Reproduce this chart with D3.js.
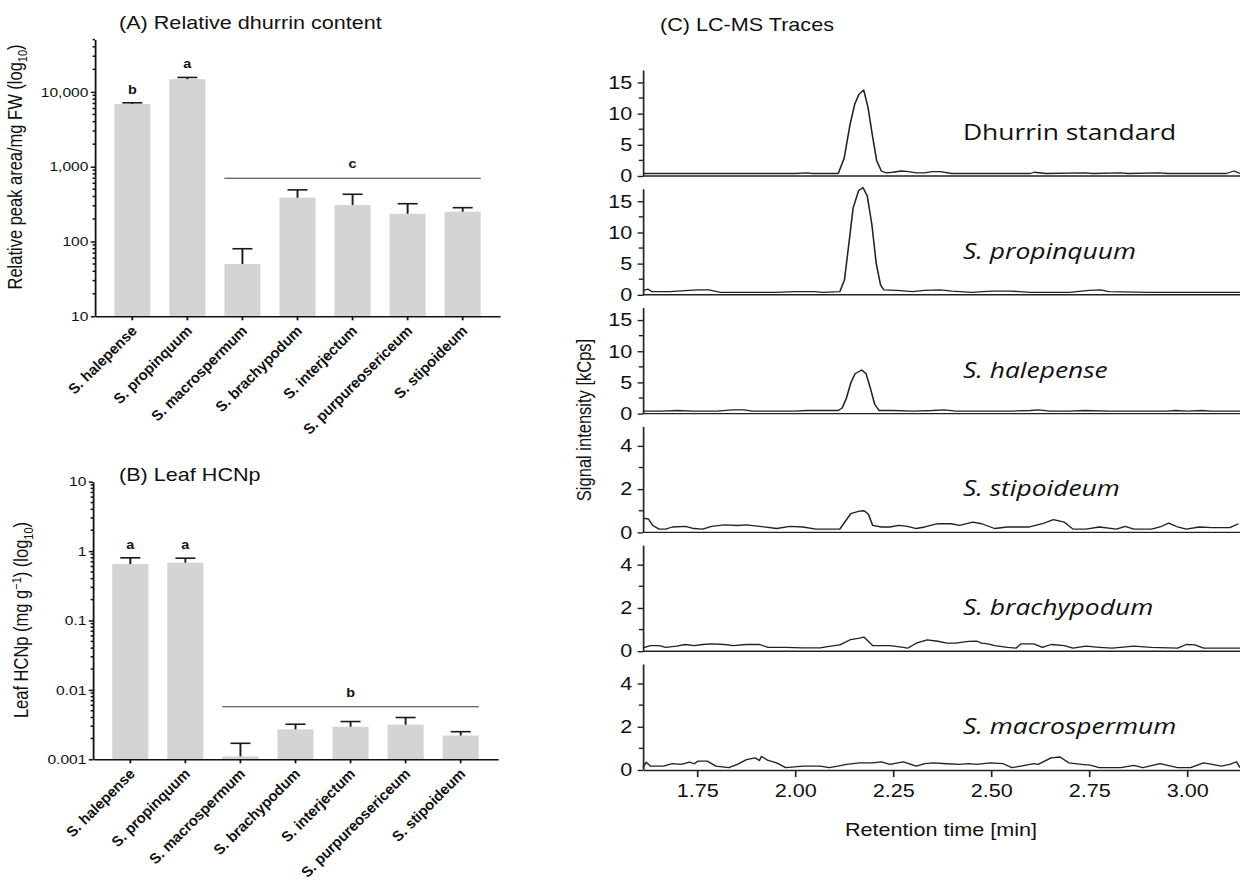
<!DOCTYPE html>
<html>
<head>
<meta charset="utf-8">
<script src="https://cdn.jsdelivr.net/npm/d3@7"></script>
<style>
body { margin: 0; background: #fff; }
svg { display: block; }
text { font-family: "Liberation Sans", Arial, sans-serif; fill: #111; }
</style>
</head>
<body>
<svg id="fig" width="1240" height="881"></svg>
<script>
// ---- data ----
var species = ["S. halepense", "S. propinquum", "S. macrospermum", "S. brachypodum",
               "S. interjectum", "S. purpureosericeum", "S. stipoideum"];

// (A) relative dhurrin content, peak area / mg FW
var dhurrinMean = [6900, 14800, 50, 385, 308, 235, 250];
var dhurrinSem  = [250, 800, 30, 105, 120, 85, 33];
var dhurrinLetters = ["b", "a", "", "", "", "", ""];
var dhurrinGroupValue = 700, dhurrinGroupLetter = "c";
var dhurrinTicks = [10, 100, 1000, 10000];

// (B) leaf HCNp, mg/g
var hcnMean = [0.65, 0.68, 0.0011, 0.0027, 0.00295, 0.00315, 0.0022];
var hcnSem  = [0.15, 0.11, 0.0006, 0.0005, 0.00055, 0.00085, 0.0003];
var hcnLetters = ["a", "a", "", "", "", "", ""];
var hcnGroupValue = 0.0057, hcnGroupLetter = "b";
var hcnTicks = [0.001, 0.01, 0.1, 1, 10];

// (C) LC-MS traces [retention time min, kCps]
var traceStandard = [[1.612,0.4],[1.70,0.4],[1.80,0.4],[1.90,0.4],[2.00,0.4],[2.03,0.5],[2.045,0.4],[2.11,0.4],
  [2.125,2.8],[2.14,8.2],[2.152,11.5],[2.163,13.1],[2.175,13.8],[2.186,11],[2.197,6.6],[2.208,2.5],[2.22,0.8],
  [2.232,0.5],[2.25,0.6],[2.27,0.8],[2.29,0.7],[2.31,0.5],[2.33,0.5],[2.35,0.7],[2.37,0.7],[2.40,0.4],[2.50,0.4],
  [2.60,0.4],[2.61,0.6],[2.64,0.4],[2.74,0.5],[2.76,0.4],[2.83,0.5],[2.85,0.4],[2.93,0.5],[2.95,0.4],[3.10,0.4],
  [3.12,0.8],[3.135,0.4]];
var tracePropinquum = [[1.612,0.7],[1.625,0.9],[1.635,0.5],[1.68,0.5],[1.70,0.6],[1.75,0.8],[1.78,0.8],[1.81,0.4],
  [1.90,0.4],[1.95,0.4],[2.00,0.5],[2.05,0.5],[2.07,0.4],[2.114,0.5],[2.126,2.4],[2.137,8.1],[2.148,13.9],
  [2.162,16.7],[2.173,17.2],[2.184,15.9],[2.196,11.2],[2.207,5.0],[2.218,1.6],[2.226,0.8],[2.26,0.7],[2.30,0.5],
  [2.33,0.7],[2.37,0.8],[2.40,0.6],[2.45,0.4],[2.50,0.6],[2.55,0.6],[2.60,0.4],[2.70,0.4],[2.75,0.7],[2.78,0.8],
  [2.80,0.5],[2.90,0.4],[3.00,0.4],[3.135,0.4]];
var traceHalepense = [[1.612,0.4],[1.66,0.4],[1.70,0.5],[1.74,0.4],[1.80,0.4],[1.84,0.6],[1.87,0.6],[1.89,0.4],
  [1.95,0.4],[2.00,0.4],[2.03,0.5],[2.08,0.5],[2.11,0.5],[2.12,0.9],[2.131,2.5],[2.142,4.9],[2.153,6.4],[2.170,7.0],
  [2.181,6.4],[2.192,4.1],[2.203,1.5],[2.214,0.5],[2.25,0.5],[2.30,0.4],[2.35,0.5],[2.38,0.6],[2.41,0.4],[2.50,0.4],
  [2.55,0.4],[2.60,0.5],[2.62,0.6],[2.65,0.4],[2.70,0.4],[2.74,0.5],[2.80,0.4],[2.90,0.4],[2.95,0.4],[2.97,0.5],
  [3.00,0.4],[3.04,0.5],[3.06,0.4],[3.135,0.4]];
var traceStipoideum = [[1.612,0.66],[1.626,0.62],[1.637,0.32],[1.653,0.15],[1.670,0.15],[1.687,0.25],[1.720,0.28],
  [1.742,0.18],[1.764,0.15],[1.787,0.28],[1.820,0.35],[1.853,0.32],[1.876,0.35],[1.909,0.28],[1.953,0.18],
  [1.987,0.28],[2.020,0.25],[2.053,0.15],[2.114,0.15],[2.142,0.87],[2.164,0.98],[2.176,1.0],[2.187,0.84],
  [2.198,0.32],[2.220,0.25],[2.242,0.25],[2.264,0.32],[2.287,0.28],[2.309,0.18],[2.331,0.25],[2.364,0.40],
  [2.398,0.40],[2.420,0.32],[2.453,0.47],[2.476,0.40],[2.509,0.18],[2.542,0.25],[2.598,0.25],[2.631,0.40],
  [2.659,0.59],[2.687,0.47],[2.709,0.15],[2.742,0.15],[2.776,0.25],[2.820,0.15],[2.842,0.28],[2.864,0.15],
  [2.909,0.15],[2.931,0.25],[2.953,0.43],[2.976,0.25],[2.998,0.15],[3.031,0.25],[3.064,0.22],[3.109,0.22],
  [3.131,0.40]];
var traceBrachypodum = [[1.612,0.15],[1.631,0.26],[1.653,0.26],[1.670,0.18],[1.698,0.23],[1.720,0.31],[1.742,0.26],
  [1.764,0.31],[1.787,0.34],[1.820,0.31],[1.842,0.26],[1.876,0.31],[1.909,0.31],[1.931,0.18],[1.976,0.18],
  [2.020,0.15],[2.064,0.15],[2.087,0.22],[2.114,0.29],[2.142,0.54],[2.164,0.6],[2.176,0.65],[2.198,0.26],
  [2.242,0.26],[2.276,0.18],[2.287,0.14],[2.309,0.37],[2.337,0.52],[2.364,0.46],[2.387,0.37],[2.409,0.37],
  [2.442,0.45],[2.464,0.46],[2.476,0.37],[2.492,0.34],[2.509,0.26],[2.542,0.18],[2.564,0.14],[2.576,0.34],
  [2.609,0.34],[2.631,0.18],[2.653,0.31],[2.687,0.26],[2.709,0.14],[2.742,0.23],[2.776,0.18],[2.809,0.14],
  [2.864,0.23],[2.909,0.18],[2.976,0.14],[2.998,0.31],[3.020,0.29],[3.042,0.14],[3.135,0.14]];
var traceMacrospermum = [[1.612,0.11],[1.620,0.36],[1.631,0.18],[1.664,0.18],[1.687,0.29],[1.709,0.26],[1.731,0.36],
  [1.742,0.29],[1.753,0.41],[1.776,0.41],[1.798,0.18],[1.831,0.11],[1.853,0.26],[1.876,0.48],[1.898,0.56],
  [1.909,0.44],[1.914,0.63],[1.931,0.44],[1.953,0.33],[1.976,0.11],[2.020,0.18],[2.064,0.18],[2.087,0.11],
  [2.109,0.18],[2.131,0.26],[2.164,0.33],[2.198,0.33],[2.220,0.38],[2.242,0.26],[2.276,0.38],[2.309,0.18],
  [2.331,0.29],[2.353,0.33],[2.387,0.29],[2.420,0.26],[2.442,0.29],[2.464,0.26],[2.498,0.33],[2.531,0.29],
  [2.553,0.11],[2.576,0.18],[2.609,0.29],[2.620,0.26],[2.653,0.56],[2.676,0.60],[2.698,0.33],[2.731,0.26],
  [2.753,0.23],[2.776,0.11],[2.831,0.11],[2.864,0.21],[2.887,0.11],[2.931,0.29],[2.976,0.11],[3.009,0.11],
  [3.042,0.33],[3.064,0.26],[3.087,0.18],[3.109,0.26],[3.126,0.38],[3.135,0.11]];

var traces = [traceStandard, tracePropinquum, traceHalepense, traceStipoideum, traceBrachypodum, traceMacrospermum];
var traceLabels = ["Dhurrin standard", "S. propinquum", "S. halepense", "S. stipoideum", "S. brachypodum", "S. macrospermum"];
var traceItalic = [false, true, true, true, true, true];
var traceYMax = [17, 17, 17, 4.9, 4.9, 4.9];
var highTicks = [0, 5, 10, 15], highMinor = [2.5, 7.5, 12.5];
var lowTicks = [0, 2, 4], lowMinor = [1, 3];
var timeDomain = [1.612, 3.135];
var timeTicks = [1.75, 2.00, 2.25, 2.50, 2.75, 3.00];

// the figure is a bit wider than tall in its lettering, so draw it narrow and stretch
var SX = 1.2;
var W = 1240 / SX;
function px(v) { return v / SX; }   // screen x -> drawing x

var svg = d3.select("#fig")
    .attr("viewBox", "0 0 " + W + " 881")
    .attr("preserveAspectRatio", "none");

function logMinor(domain) {
    var out = [];
    for (var e = Math.floor(Math.log10(domain[0])); e < Math.ceil(Math.log10(domain[1])); e++) {
        for (var k = 2; k <= 9; k++) {
            var v = k * Math.pow(10, e);
            if (v > domain[0] && v <= domain[1] * 1.0001) out.push(v);
        }
    }
    return out;
}

function barPanel(cfg) {
    var g = svg.append("g");
    var x = d3.scaleBand().domain(species)
        .range([px(cfg.x0), px(cfg.x1)])
        .paddingInner(0.345).paddingOuter(0.35);
    var y = d3.scaleLog().domain(cfg.domain).range([cfg.yBottom, cfg.yTop]);
    var cx = function (i) { return x(species[i]) + x.bandwidth() / 2; };

    g.selectAll("rect.bar").data(cfg.mean).join("rect")
        .attr("class", "bar")
        .attr("x", function (d, i) { return x(species[i]); })
        .attr("width", x.bandwidth())
        .attr("y", function (d) { return y(d); })
        .attr("height", function (d) { return y(cfg.domain[0]) - y(d); })
        .attr("fill", "#d4d4d4");

    // error bars (upper only)
    var eb = g.selectAll("g.err").data(cfg.mean).join("g").attr("class", "err")
        .attr("stroke", "#1a1a1a").attr("stroke-width", 1.6);
    eb.append("line")
        .attr("x1", function (d, i) { return cx(i); })
        .attr("x2", function (d, i) { return cx(i); })
        .attr("y1", function (d) { return y(d); })
        .attr("y2", function (d, i) { return y(d + cfg.sem[i]); });
    eb.append("line")
        .attr("x1", function (d, i) { return cx(i) - px(10); })
        .attr("x2", function (d, i) { return cx(i) + px(10); })
        .attr("y1", function (d, i) { return y(d + cfg.sem[i]); })
        .attr("y2", function (d, i) { return y(d + cfg.sem[i]); });

    g.selectAll("text.letter").data(cfg.letters).join("text")
        .attr("class", "letter")
        .attr("x", function (d, i) { return cx(i); })
        .attr("y", function (d, i) { return y(cfg.mean[i] + cfg.sem[i]) - 9; })
        .attr("text-anchor", "middle")
        .attr("font-size", 12).attr("font-weight", "bold")
        .text(function (d) { return d; });

    // significance group line over bars 3-7
    var gx0 = x(species[2]), gx1 = x(species[6]) + x.bandwidth();
    g.append("line")
        .attr("x1", gx0).attr("x2", gx1)
        .attr("y1", y(cfg.groupValue)).attr("y2", y(cfg.groupValue))
        .attr("stroke", "#333").attr("stroke-width", 1);
    g.append("text")
        .attr("x", (gx0 + gx1) / 2).attr("y", y(cfg.groupValue) - 10)
        .attr("text-anchor", "middle").attr("font-size", 12).attr("font-weight", "bold")
        .text(cfg.groupLetter);

    // y axis
    var ya = g.append("g").attr("transform", "translate(" + px(cfg.x0) + ",0)")
        .call(d3.axisLeft(y).tickValues(cfg.ticks).tickFormat(cfg.format)
            .tickSize(3.5).tickPadding(2).tickSizeOuter(0));
    ya.selectAll("text").attr("font-size", 13).style("font-family", "Liberation Sans, Arial, sans-serif").attr("fill", "#111");
    ya.selectAll(".minor").data(logMinor(cfg.domain)).join("line")
        .attr("class", "minor")
        .attr("x1", -2).attr("x2", 0)
        .attr("y1", function (d) { return y(d); }).attr("y2", function (d) { return y(d); })
        .attr("stroke", "#111");
    ya.selectAll("path, line").attr("stroke", "#111").attr("stroke-width", 1.5);

    // x axis
    var xa = g.append("g").attr("transform", "translate(0," + cfg.yBottom + ")")
        .call(d3.axisBottom(x).tickSize(4).tickSizeOuter(0));
    xa.selectAll("path, line").attr("stroke", "#111").attr("stroke-width", 1.5);
    xa.selectAll("text")
        .attr("x", 0).attr("y", 0).attr("dy", 0)
        .attr("text-anchor", "end")
        .attr("transform", "translate(" + px(6) + ",15) rotate(-50.2)")
        .attr("font-size", 13.5).attr("font-weight", "bold").attr("font-style", "italic")
        .style("font-family", "Liberation Sans, Arial, sans-serif").attr("fill", "#111");

    // title
    g.append("text").attr("x", px(119)).attr("y", cfg.titleY)
        .attr("font-size", 18).text(cfg.title);

    // y label
    var yl = g.append("text")
        .attr("transform", "translate(" + px(cfg.labelX) + "," + cfg.labelY + ") rotate(-90)")
        .attr("text-anchor", "middle").attr("font-size", 16.5);
    cfg.label(yl);
}

barPanel({
    x0: 95, x1: 500, yBottom: 316.3, yTop: 39.6, domain: [10, 50000],
    mean: dhurrinMean, sem: dhurrinSem, letters: dhurrinLetters,
    groupValue: dhurrinGroupValue, groupLetter: dhurrinGroupLetter,
    ticks: dhurrinTicks, format: d3.format(","),
    title: "(A) Relative dhurrin content", titleY: 29,
    labelX: 22, labelY: 167,
    label: function (t) {
        t.append("tspan").text("Relative peak area/mg FW (log");
        t.append("tspan").attr("font-size", 11).attr("dy", 4).text("10");
        t.append("tspan").attr("dy", -4).text(")");
    }
});

barPanel({
    x0: 93, x1: 498, yBottom: 759.3, yTop: 481.7, domain: [0.001, 10],
    mean: hcnMean, sem: hcnSem, letters: hcnLetters,
    groupValue: hcnGroupValue, groupLetter: hcnGroupLetter,
    ticks: hcnTicks, format: function (d) { return String(d); },
    title: "(B) Leaf HCNp", titleY: 481,
    labelX: 28, labelY: 620,
    label: function (t) {
        t.append("tspan").text("Leaf HCNp (mg g");
        t.append("tspan").attr("font-size", 11).attr("dy", -6).text("\u22121");
        t.append("tspan").attr("dy", 6).text(") (log");
        t.append("tspan").attr("font-size", 11).attr("dy", 4).text("10");
        t.append("tspan").attr("dy", -4).text(")");
    }
});

// ---- (C) LC-MS traces ----
var gc = svg.append("g");
var xC = d3.scaleLinear().domain(timeDomain).range([px(643), W]);
var panelTop0 = 70, panelStep = 118.8, panelH = 106;

traces.forEach(function (tr, i) {
    var top = panelTop0 + i * panelStep, bottom = top + panelH;
    var yC = d3.scaleLinear().domain([0, traceYMax[i]]).range([bottom, top]);
    var high = traceYMax[i] > 10;
    var pg = gc.append("g");

    var ya = pg.append("g").attr("transform", "translate(" + px(643) + ",0)")
        .call(d3.axisLeft(yC).tickValues(high ? highTicks : lowTicks).tickFormat(d3.format("~g"))
            .tickSize(4.5).tickPadding(4.5).tickSizeOuter(0));
    ya.selectAll(".minor").data(high ? highMinor : lowMinor).join("line")
        .attr("class", "minor")
        .attr("x1", -3.5).attr("x2", 0)
        .attr("y1", function (d) { return yC(d); }).attr("y2", function (d) { return yC(d); });
    ya.selectAll("path, line").attr("stroke", "#222").attr("stroke-width", 1.4);
    ya.selectAll("text").attr("font-size", 18).attr("fill", "#111")
        .style("font-family", "Liberation Sans, Arial, sans-serif");

    if (i === traces.length - 1) {
        var xa = pg.append("g").attr("transform", "translate(0," + bottom + ")")
            .call(d3.axisBottom(xC).tickValues(timeTicks).tickFormat(d3.format(".2f"))
                .tickSize(7).tickPadding(7).tickSizeOuter(0));
        xa.selectAll("path, line").attr("stroke", "#222").attr("stroke-width", 1.4);
        xa.selectAll("text").attr("font-size", 18).attr("fill", "#111")
            .style("font-family", "Liberation Sans, Arial, sans-serif");
    } else {
        pg.append("line").attr("x1", px(643)).attr("x2", W)
            .attr("y1", bottom).attr("y2", bottom)
            .attr("stroke", "#222").attr("stroke-width", 1.4);
    }

    pg.append("path").datum(tr)
        .attr("fill", "none").attr("stroke", "#222").attr("stroke-width", 1.3)
        .attr("stroke-linejoin", "round")
        .attr("d", d3.line().x(function (d) { return xC(d[0]); }).y(function (d) { return yC(d[1]); }));

    pg.append("text").attr("x", px(963)).attr("y", top + 70)
        .attr("font-size", 22)
        .attr("font-style", traceItalic[i] ? "italic" : "normal")
        .style("font-family", "'Open Sans', sans-serif")
        .text(traceLabels[i]);
});

gc.append("text").attr("x", px(660)).attr("y", 31).attr("font-size", 18).text("(C) LC-MS Traces");
gc.append("text").attr("x", px(941)).attr("y", 836).attr("text-anchor", "middle")
    .attr("font-size", 18).text("Retention time [min]");
gc.append("text")
    .attr("transform", "translate(" + px(591) + ",420) rotate(-90)")
    .attr("text-anchor", "middle").attr("font-size", 16.5)
    .text("Signal intensity [kCps]");
</script>
</body>
</html>
